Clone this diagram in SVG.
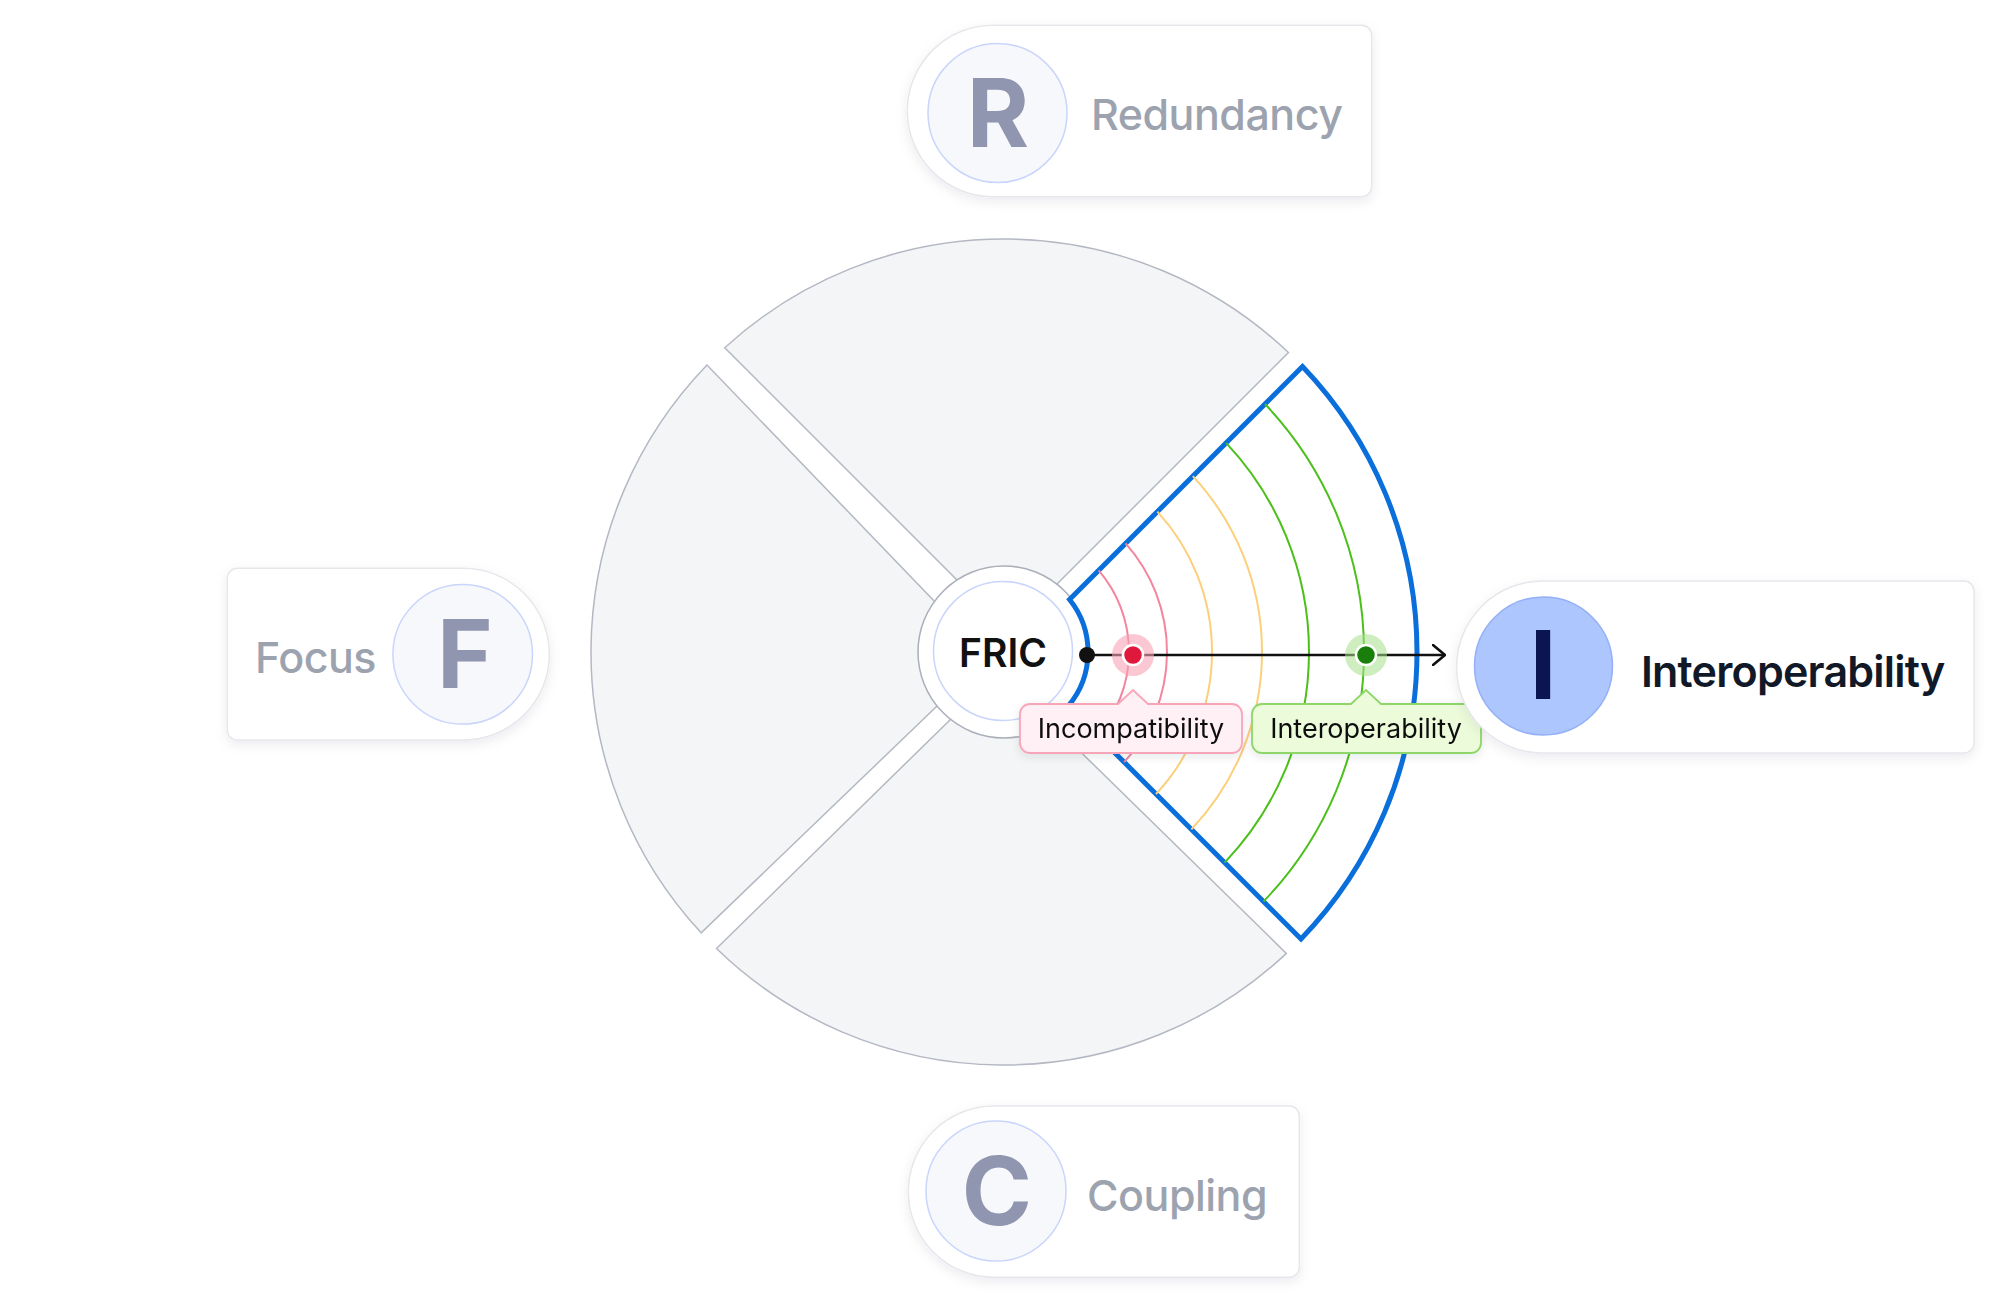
<svg xmlns="http://www.w3.org/2000/svg" width="2000" height="1303" viewBox="0 0 2000 1303">
  <defs>
    <filter id="shadow" x="-20%" y="-20%" width="140%" height="150%">
      <feDropShadow dx="0" dy="4" stdDeviation="6" flood-color="#1f2937" flood-opacity="0.08"/>
    </filter>
    <filter id="shadowSm" x="-20%" y="-30%" width="140%" height="170%">
      <feDropShadow dx="0" dy="3" stdDeviation="4" flood-color="#1f2937" flood-opacity="0.10"/>
    </filter>
    <marker id="chev" viewBox="0 0 14 22" refX="13" refY="11" markerWidth="14" markerHeight="22" markerUnits="userSpaceOnUse" orient="auto">
      <path d="M1 1 L13 11 L1 21" fill="none" stroke="#111111" stroke-width="2.6" stroke-linecap="round" stroke-linejoin="round"/>
    </marker>
  </defs>
  <style>
    text { font-family: Inter, "Liberation Sans", Arial, sans-serif; }
    .sector { fill: #f4f5f7; stroke: #b4b8c2; stroke-width: 1.5; }
    .card { fill: #ffffff; stroke: #e5e7eb; stroke-width: 1.5; filter: url(#shadow); }
    .disc { fill: #f7f8fb; stroke: #c9d5fb; stroke-width: 1.5; }
    .letter { font-size: 95px; font-weight: 700; fill: #9196b0; text-anchor: middle; }
    .name { font-size: 43px; font-weight: 500; fill: #9ca3af; letter-spacing: -0.5px; }
    .arc-pink { fill: none; stroke: #f5849f; stroke-width: 2; }
    .arc-orange { fill: none; stroke: #fcd07a; stroke-width: 2; }
    .arc-green { fill: none; stroke: #4bbf1a; stroke-width: 2; }
    .tag { font-size: 27px; font-weight: 400; fill: #111111; text-anchor: middle; }
  </style>
  <rect width="2000" height="1303" fill="#ffffff"/>

  <!-- Pie sectors -->
  <g id="pie">
    <path id="sector-top" class="sector" d="M 1009 632 L 724.75 347.75 A 413 413 0 0 1 1288.44 352.56 Z"/>
    <path id="sector-left" class="sector" d="M 988 657 L 701.17 932.83 A 413 413 0 0 1 707.01 365.01 Z"/>
    <path id="sector-bottom" class="sector" d="M 999 672 L 1286.38 953.38 A 413 413 0 0 1 716.5 948.5 Z"/>
    <circle id="ring" cx="1004" cy="652" r="86" fill="#ffffff" stroke="#a9aeb9" stroke-width="1.5"/>
  </g>

  <!-- Active sector: Interoperability -->
  <g id="sector-active">
    <path d="M 1069.54 599.46 L 1302.46 366.54 A 413 413 0 0 1 1300.99 938.99 L 1068.19 706.19 A 84 84 0 0 0 1069.54 599.46 Z" fill="#ffffff" stroke="#0b6fdb" stroke-width="5" stroke-linejoin="miter"/>
    <path class="arc-pink" d="M 1098.65 570.35 A 125 125 0 0 1 1097.25 735.25"/>
    <path class="arc-pink" d="M 1125.58 543.42 A 163 163 0 0 1 1124.15 762.15"/>
    <path class="arc-orange" d="M 1157.43 511.57 A 208 208 0 0 1 1156.0 794.0"/>
    <path class="arc-orange" d="M 1192.82 476.18 A 258 258 0 0 1 1191.37 829.37"/>
    <path class="arc-green" d="M 1226.07 442.93 A 305 305 0 0 1 1224.61 862.61"/>
    <path class="arc-green" d="M 1264.98 404.02 A 360 360 0 0 1 1263.51 901.51"/>
  </g>

  <!-- Center node -->
  <g id="node-fric">
    <circle cx="1003" cy="651" r="69.5" fill="#ffffff" stroke="#c9d5fb" stroke-width="1.5"/>
    <text x="1003" y="667" font-size="39" font-weight="600" fill="#111111" text-anchor="middle">FRIC</text>
  </g>

  <!-- Connector: scale arrow -->
  <g id="connectors">
    <line x1="1087" y1="655" x2="1445" y2="655" stroke="#111111" stroke-width="2.6" marker-end="url(#chev)"/>
  </g>

  <!-- Scale points -->
  <g id="point-origin">
    <circle cx="1087" cy="655" r="8" fill="#111111"/>
  </g>
  <g id="point-incompatibility">
    <circle cx="1133" cy="655" r="21" fill="#f6a2b6" fill-opacity="0.6"/>
    <circle cx="1133" cy="655" r="10" fill="#e0183c" stroke="#ffffff" stroke-width="2.5"/>
  </g>
  <g id="point-interoperability">
    <circle cx="1366" cy="655" r="21" fill="#a8e08a" fill-opacity="0.55"/>
    <circle cx="1366" cy="655" r="10" fill="#1a7f0a" stroke="#ffffff" stroke-width="2.5"/>
  </g>

  <!-- Callout labels -->
  <g id="label-incompatibility" filter="url(#shadowSm)">
    <path d="M 1030 704 H 1118 L 1133 690 L 1148 704 H 1232 A 10 10 0 0 1 1242 714 V 743 A 10 10 0 0 1 1232 753 H 1030 A 10 10 0 0 1 1020 743 V 714 A 10 10 0 0 1 1030 704 Z" fill="#fff0f5" stroke="#f8a5ba" stroke-width="1.8"/>
    <text class="tag" x="1131" y="738">Incompatibility</text>
  </g>
  <g id="label-interoperability" filter="url(#shadowSm)">
    <path d="M 1262 704 H 1351 L 1366 690 L 1381 704 H 1471 A 10 10 0 0 1 1481 714 V 743 A 10 10 0 0 1 1471 753 H 1262 A 10 10 0 0 1 1252 743 V 714 A 10 10 0 0 1 1262 704 Z" fill="#ecfcda" stroke="#8fd66a" stroke-width="1.8"/>
    <text class="tag" x="1366" y="738">Interoperability</text>
  </g>

  <!-- Outer nodes -->
  <g id="node-redundancy">
    <path class="card" d="M 993 25.3 H 1361.7 A 10 10 0 0 1 1371.7 35.3 V 186.7 A 10 10 0 0 1 1361.7 196.7 H 993 A 85.7 85.7 0 0 1 993 25.3 Z"/>
    <circle class="disc" cx="997.5" cy="113" r="69.5"/>
    <text class="letter" x="998" y="146.5">R</text>
    <text class="name" x="1091" y="130">Redundancy</text>
  </g>

  <g id="node-focus">
    <path class="card" d="M 237.3 568.3 H 463.5 A 85.8 85.8 0 0 1 463.5 740 H 237.3 A 10 10 0 0 1 227.3 730 V 578.3 A 10 10 0 0 1 237.3 568.3 Z"/>
    <circle class="disc" cx="462.7" cy="654.3" r="69.8"/>
    <text class="letter" x="465" y="688.3">F</text>
    <text class="name" x="376" y="672.7" text-anchor="end">Focus</text>
  </g>

  <g id="node-coupling">
    <path class="card" d="M 994 1106 H 1289.3 A 10 10 0 0 1 1299.3 1116 V 1267.3 A 10 10 0 0 1 1289.3 1277.3 H 994 A 85.65 85.65 0 0 1 994 1106 Z"/>
    <circle class="disc" cx="996" cy="1191" r="70"/>
    <text class="letter" x="997" y="1224.5">C</text>
    <text class="name" x="1087" y="1210.7">Coupling</text>
  </g>

  <g id="node-interoperability">
    <path class="card" d="M 1542.5 581 H 1964 A 10 10 0 0 1 1974 591 V 743 A 10 10 0 0 1 1964 753 H 1542.5 A 86 86 0 0 1 1542.5 581 Z"/>
    <circle cx="1543.5" cy="666" r="69" fill="#adc6fd" stroke="#93b0f8" stroke-width="1.5"/>
    <text class="letter" x="1543" y="698.5" style="fill:#0b1650">I</text>
    <text x="1641" y="686.7" font-size="43" font-weight="600" fill="#111827" letter-spacing="-0.8">Interoperability</text>
  </g>
</svg>
